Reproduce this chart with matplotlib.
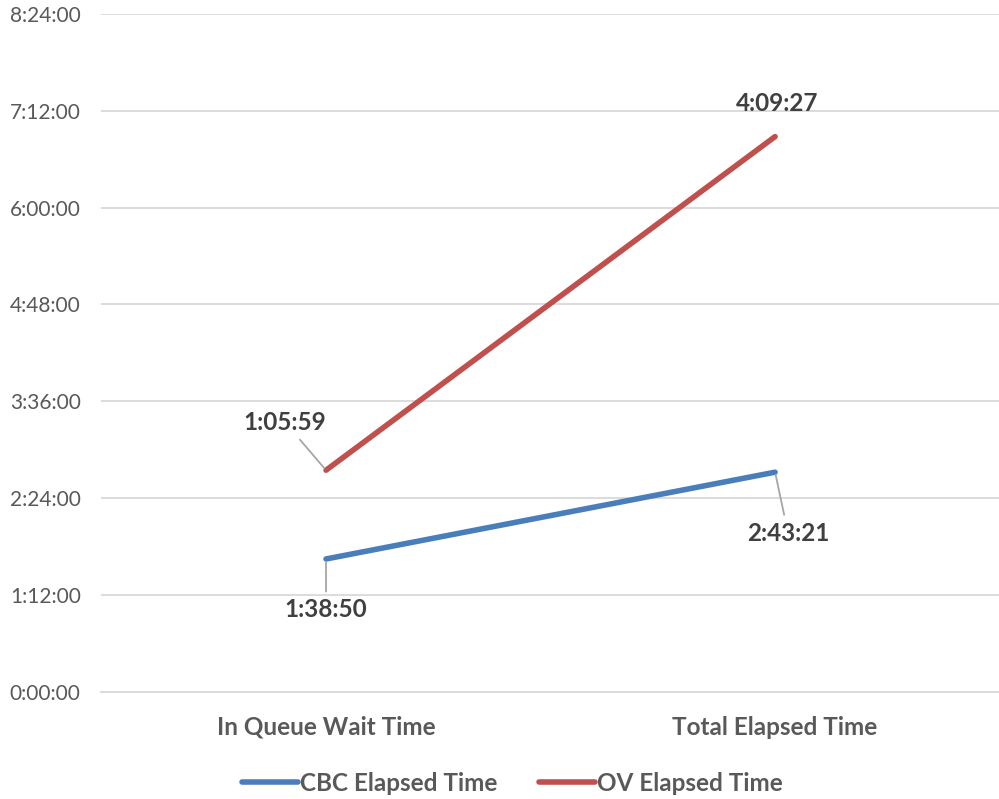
"""Stacked line chart: CBC vs OV elapsed time (Excel-style)."""

import matplotlib.pyplot as plt

categories = ["In Queue Wait Time", "Total Elapsed Time"]
cbc_times = ["1:38:50", "2:43:21"]
ov_times = ["1:05:59", "4:09:27"]
series_names = ["CBC Elapsed Time", "OV Elapsed Time"]
y_ticks = ["0:00:00", "1:12:00", "2:24:00", "3:36:00", "4:48:00", "6:00:00", "7:12:00", "8:24:00"]


def to_minutes(s: str) -> float:
    h, m, sec = (int(p) for p in s.split(":"))
    return h * 60 + m + sec / 60


def main() -> None:
    plt.rcParams["font.family"] = ["Lato", "DejaVu Sans"]

    cbc = [to_minutes(t) for t in cbc_times]
    ov = [to_minutes(t) for t in ov_times]
    ov_stacked = [a + b for a, b in zip(cbc, ov)]
    ticks = [to_minutes(t) for t in y_ticks]
    x = list(range(len(categories)))

    fig = plt.figure(figsize=(9.99, 7.99), dpi=100)
    ax = fig.add_axes([0.1016, 0.134, 0.899, 0.8486])

    ax.plot(x, cbc, color="#4a7ebb", lw=4, solid_capstyle="round", label=series_names[0], zorder=3)
    ax.plot(x, ov_stacked, color="#c0504d", lw=4, solid_capstyle="round", label=series_names[1], zorder=3)

    ax.set_xlim(-0.5, 1.5)
    ax.set_ylim(ticks[0], ticks[-1])
    ax.set_yticks(ticks)
    ax.set_yticklabels(y_ticks)
    ax.set_xticks(x)
    ax.set_xticklabels(categories, fontweight="bold", fontsize=17.5, color="#595959")
    ax.tick_params(axis="y", length=0, pad=15, labelsize=15, labelcolor="#595959")
    ax.tick_params(axis="x", length=0, pad=17)
    ax.grid(axis="y", color="#d9d9d9", lw=1.3)
    ax.set_axisbelow(True)
    for side in ["top", "right", "left"]:
        ax.spines[side].set_visible(False)
    ax.spines["bottom"].set_color("#d9d9d9")
    ax.spines["bottom"].set_linewidth(1.3)

    label_kw = dict(textcoords="offset pixels", ha="center", va="center",
                    fontsize=17.5, fontweight="bold", color="#404040")
    line_kw = dict(arrowstyle="-", color="#a6a6a6", lw=1.3, shrinkA=3, shrinkB=2)

    # data labels show the individual values at the stacked positions
    ax.annotate(ov_times[0], (x[0], ov_stacked[0]), xytext=(-41, 48), arrowprops=line_kw, **label_kw)
    ax.annotate(ov_times[1], (x[1], ov_stacked[1]), xytext=(2, 33), **label_kw)
    ax.annotate(cbc_times[0], (x[0], cbc[0]), xytext=(0, -51), arrowprops=line_kw, **label_kw)
    ax.annotate(cbc_times[1], (x[1], cbc[1]), xytext=(13, -61), arrowprops=line_kw, **label_kw)

    leg = fig.legend(loc="center", bbox_to_anchor=(0.513, 0.02), ncol=2, frameon=False,
                     handlelength=2.3, columnspacing=1.7, handletextpad=0.1,
                     prop={"weight": "bold", "size": 17.5})
    for t in leg.get_texts():
        t.set_color("#595959")

    fig.savefig("out.png", dpi=100)
    plt.close(fig)


if __name__ == "__main__":
    main()
